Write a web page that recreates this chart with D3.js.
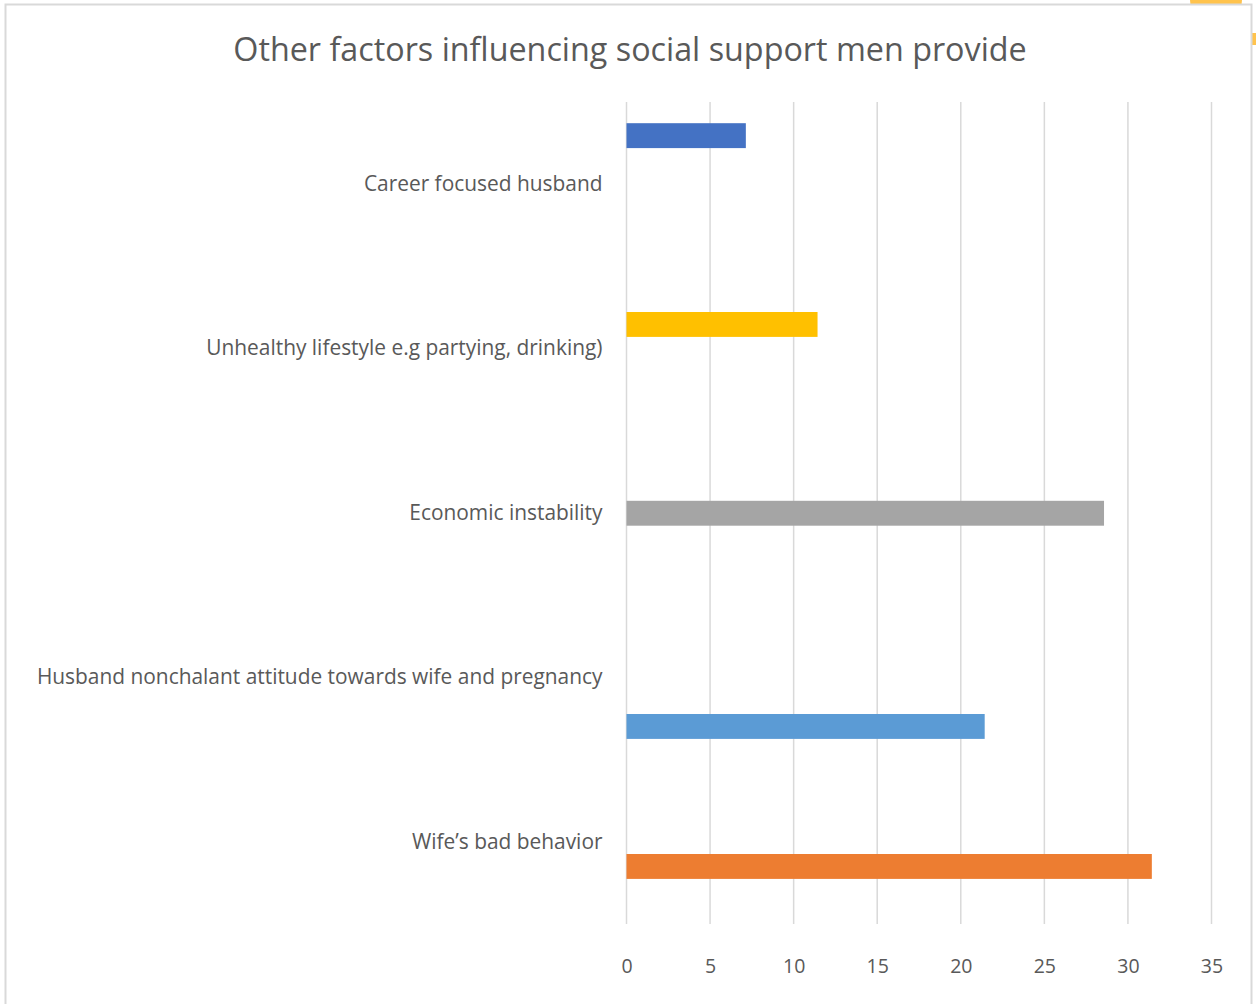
<!DOCTYPE html>
<html>
<head>
<meta charset="utf-8">
<script src="https://cdn.jsdelivr.net/npm/d3@7"></script>
<style>
  html, body { margin: 0; padding: 0; background: #fff; }
  svg { display: block; font-family: "Open Sans", "Liberation Sans", sans-serif; }
</style>
</head>
<body>
<div id="chart"></div>
<script>
// Chart data
const title = "Other factors influencing social support men provide";
const categories = [
  "Career focused husband",
  "Unhealthy lifestyle e.g partying, drinking)",
  "Economic instability",
  "Husband nonchalant attitude towards wife and pregnancy",
  "Wife\u2019s bad behavior"
];
// one series per factor, listed in the order they sit inside a cluster (top to bottom)
const seriesNames = ["Series 1", "Series 4", "Series 3", "Series 2", "Series 5"];
// values[series][category]
const values = [
  [7.14, 0, 0, 0, 0],
  [0, 11.43, 0, 0, 0],
  [0, 0, 28.57, 0, 0],
  [0, 0, 0, 0, 31.43],
  [0, 0, 0, 21.43, 0]
];
const xTicks = [0, 5, 10, 15, 20, 25, 30, 35];
const seriesColors = ["#4472C4", "#FFC000", "#A5A5A5", "#ED7D31", "#5B9BD5"];

const W = 1256, H = 1004;
const plot = {left: 626.5, right: 1211.5, top: 102, bottom: 924};

const svg = d3.select("#chart").append("svg")
  .attr("width", W)
  .attr("height", H);

// icon peeking out behind the chart corner
svg.append("circle")
  .attr("cx", 1216).attr("cy", 0).attr("r", 26)
  .attr("fill", "#FFC34D");
svg.append("rect")
  .attr("x", 1252).attr("y", 33).attr("width", 4).attr("height", 12)
  .attr("fill", "#FFC34D");

// chart frame
svg.append("rect")
  .attr("x", 5.5).attr("y", 4.5)
  .attr("width", 1246).attr("height", 1010)
  .attr("fill", "#fff")
  .attr("stroke", "#d9d9d9")
  .attr("stroke-width", 2);

// title
svg.append("text")
  .attr("x", 630).attr("y", 61)
  .attr("text-anchor", "middle")
  .attr("fill", "#595959")
  .style("font-size", "32.3px")
  .text(title);

// scales
const x = d3.scaleLinear()
  .domain([0, 35])
  .range([plot.left, plot.right]);

const y = d3.scaleBand()
  .domain(categories)
  .range([plot.top, plot.bottom]);

const inner = d3.scaleBand()
  .domain(seriesNames)
  .range([0, 122])
  .padding(0);

// gridlines
svg.append("g")
  .selectAll("line")
  .data(xTicks)
  .join("line")
  .attr("x1", d => x(d)).attr("x2", d => x(d))
  .attr("y1", plot.top).attr("y2", plot.bottom)
  .attr("stroke", "#d9d9d9")
  .attr("stroke-width", 1.5);

// bars
const offset = (y.bandwidth() - inner.range()[1]) / 2;
seriesNames.forEach((s, si) => {
  svg.append("g")
    .selectAll("rect")
    .data(values[si].map((v, ci) => ({cat: categories[ci], v: v})).filter(d => d.v > 0))
    .join("rect")
    .attr("x", x(0))
    .attr("y", d => y(d.cat) + offset + inner(s))
    .attr("width", d => x(d.v) - x(0))
    .attr("height", inner.bandwidth() + 0.5)
    .attr("fill", seriesColors[si]);
});

// category labels
const yAxis = d3.axisLeft(y).tickSize(0).tickPadding(24);
const gy = svg.append("g")
  .attr("transform", `translate(${plot.left},0)`)
  .call(yAxis);
gy.select(".domain").remove();
gy.selectAll("text")
  .attr("fill", "#595959")
  .style("font-family", "'Open Sans', sans-serif")
  .style("font-size", "20.9px");

// x axis tick labels
const xAxis = d3.axisBottom(x).tickValues(xTicks).tickSize(0).tickPadding(35);
const gx = svg.append("g")
  .attr("transform", `translate(0,${plot.bottom})`)
  .call(xAxis);
gx.select(".domain").remove();
gx.selectAll("text")
  .attr("fill", "#595959")
  .style("font-family", "'Open Sans', sans-serif")
  .style("font-size", "19.5px");
</script>
</body>
</html>
